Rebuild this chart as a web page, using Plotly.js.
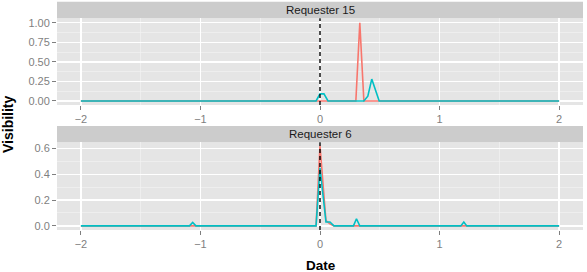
<!DOCTYPE html>
<html>
<head>
<meta charset="utf-8">
<script src="https://cdn.plot.ly/plotly-3.0.1.min.js"></script>
<style>html,body{margin:0;padding:0;background:#fff;}</style>
</head>
<body>
<div id="chart" style="width:587px;height:272px;"></div>
<script>
// Panel names
const panelNames = ["Requester 15", "Requester 6"];

// Requester 15 – red series
const r15RedDate = [-2, 0.30, 0.333, 0.367, 2];
const r15RedVis  = [0, 0, 1.0, 0, 0];
// Requester 15 – teal series
const r15TealDate = [-2, -0.033, 0, 0.033, 0.067, 0.367, 0.40, 0.433, 0.495, 2];
const r15TealVis  = [0, 0, 0.09, 0.09, 0, 0, 0.06, 0.28, 0, 0];

// Requester 6 – red series
const r6RedDate = [-2, -0.033, 0, 0.05, 0.083, 0.117, 2];
const r6RedVis  = [0, 0, 0.62, 0.04, 0.015, 0, 0];
// Requester 6 – teal series
const r6TealDate = [-2, -1.092, -1.065, -1.038, -0.033, 0, 0.05, 0.083, 0.117, 0.28, 0.305, 0.333, 1.178, 1.203, 1.228, 2];
const r6TealVis  = [0, 0, 0.027, 0, 0, 0.45, 0.03, 0.03, 0, 0, 0.055, 0, 0, 0.03, 0, 0];

// Tick labels
const xTickVals = [-2, -1, 0, 1, 2];
const xTickText = ["\u22122", "\u22121", "0", "1", "2"];
const xMinorVals = [-1.5, -0.5, 0.5, 1.5];
const y15TickVals = [0, 0.25, 0.5, 0.75, 1.0];
const y15TickText = ["0.00", "0.25", "0.50", "0.75", "1.00"];
const y15MinorVals = [0.125, 0.375, 0.625, 0.875];
const y6TickVals = [0, 0.2, 0.4, 0.6];
const y6TickText = ["0.0", "0.2", "0.4", "0.6"];
const y6MinorVals = [0.1, 0.3, 0.5];

const RED = "#F8766D", TEAL = "#00BFC4";
const LW = 1.6;

const traces = [
  {x: r15RedDate, y: r15RedVis, xaxis: "x", yaxis: "y", mode: "lines", line: {color: RED, width: LW}},
  {x: r15TealDate, y: r15TealVis, xaxis: "x", yaxis: "y", mode: "lines", line: {color: TEAL, width: LW}},
  {x: r6RedDate, y: r6RedVis, xaxis: "x2", yaxis: "y2", mode: "lines", line: {color: RED, width: LW}},
  {x: r6TealDate, y: r6TealVis, xaxis: "x2", yaxis: "y2", mode: "lines", line: {color: TEAL, width: LW}}
];

const H = 272;
const py = v => 1 - v / H;
const tickFont = {family: "Arial, Liberation Sans, sans-serif", size: 11, color: "#7F7F7F"};

function xAxis(anchor) {
  return {
    anchor: anchor, domain: [0, 1], range: [-2.2, 2.2],
    tickmode: "array", tickvals: xTickVals, ticktext: xTickText,
    ticks: "outside", ticklen: 4, tickwidth: 1, tickcolor: "#7F7F7F",
    tickfont: tickFont,
    showgrid: true, gridcolor: "#FFFFFF", gridwidth: 1.3,
    minor: {tickmode: "array", tickvals: xMinorVals, showgrid: true, gridcolor: "#F2F2F2", gridwidth: 0.7, ticks: ""},
    zeroline: false, showline: false, fixedrange: true
  };
}
function yAxis(anchor, dom, rng, tv, tt, mv) {
  return {
    anchor: anchor, domain: dom, range: rng,
    tickmode: "array", tickvals: tv, ticktext: tt,
    ticks: "outside", ticklen: 4, tickwidth: 1, tickcolor: "#7F7F7F",
    tickfont: tickFont,
    showgrid: true, gridcolor: "#FFFFFF", gridwidth: 1.3,
    minor: {tickmode: "array", tickvals: mv, showgrid: true, gridcolor: "#F2F2F2", gridwidth: 0.7, ticks: ""},
    zeroline: false, showline: false, fixedrange: true
  };
}

const topDom = [py(105), py(18.3)];
const botDom = [py(230), py(142.3)];

const layout = {
  width: 587, height: 272,
  margin: {l: 57, r: 4, t: 0, b: 0, pad: 0},
  paper_bgcolor: "#FFFFFF", plot_bgcolor: "#E5E5E5",
  showlegend: false,
  font: {family: "Arial, Liberation Sans, sans-serif"},
  xaxis: xAxis("y"),
  yaxis: yAxis("x", topDom, [-0.052, 1.058], y15TickVals, y15TickText, y15MinorVals),
  xaxis2: xAxis("y2"),
  yaxis2: yAxis("x2", botDom, [-0.032, 0.648], y6TickVals, y6TickText, y6MinorVals),
  shapes: [
    {type: "rect", xref: "paper", yref: "paper", x0: 0, x1: 1, y0: py(18.3), y1: py(1.7), fillcolor: "#CCCCCC", line: {width: 0}, layer: "below"},
    {type: "rect", xref: "paper", yref: "paper", x0: 0, x1: 1, y0: py(142.3), y1: py(126), fillcolor: "#CCCCCC", line: {width: 0}, layer: "below"},
    {type: "line", xref: "x", yref: "y domain", x0: 0, x1: 0, y0: 0, y1: 1, line: {color: "#000000", width: 1.4, dash: "4px,3px"}},
    {type: "line", xref: "x2", yref: "y2 domain", x0: 0, x1: 0, y0: 0, y1: 1, line: {color: "#000000", width: 1.4, dash: "4px,3px"}}
  ],
  annotations: [
    {text: panelNames[0], xref: "paper", yref: "paper", x: 0.5, y: py(10), xanchor: "center", yanchor: "middle", showarrow: false, font: {size: 11.5, color: "#1A1A1A"}},
    {text: panelNames[1], xref: "paper", yref: "paper", x: 0.5, y: py(134.2), xanchor: "center", yanchor: "middle", showarrow: false, font: {size: 11.5, color: "#1A1A1A"}},
    {text: "<b>Date</b>", xref: "paper", yref: "paper", x: (321 - 57) / 526, y: py(265), xanchor: "center", yanchor: "middle", showarrow: false, font: {size: 13.5, color: "#000000"}},
    {text: "<b>Visibility</b>", xref: "paper", yref: "paper", x: (8 - 57) / 526, y: py(124), xanchor: "center", yanchor: "middle", textangle: -90, showarrow: false, font: {size: 14, color: "#000000"}}
  ]
};

Plotly.newPlot("chart", traces, layout, {staticPlot: true, displayModeBar: false});
</script>
</body>
</html>
